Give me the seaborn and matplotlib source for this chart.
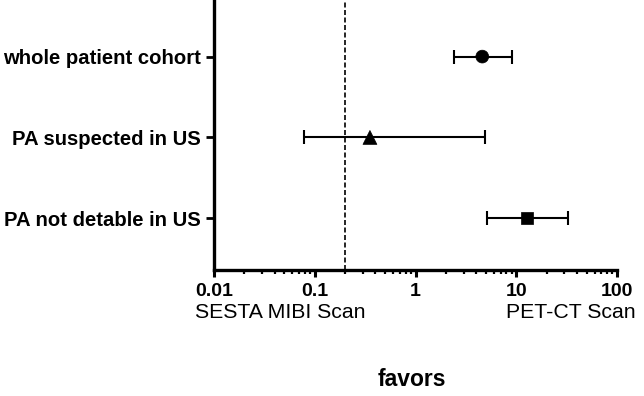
import numpy as np
import pandas as pd
import matplotlib
matplotlib.use("Agg")
import matplotlib.pyplot as plt
import seaborn as sns
from matplotlib.ticker import FixedLocator, LogLocator, NullFormatter

# ---- data ----
groups = ["whole patient cohort", "PA suspected in US", "PA not detable in US"]
odds_ratio = [4.6, 0.353, 12.9]
ci_low = [2.43, 0.079, 5.08]
ci_high = [9.06, 4.86, 32.7]
markers_used = ["o", "^", "s"]
marker_sizes = [85, 100, 75]
reference_value = 0.2
xtick_values = [0.01, 0.1, 1, 10, 100]
xtick_labels = ["0.01", "0.1", "1", "10", "100"]
left_label = "SESTA MIBI Scan"
right_label = "PET-CT Scan"
xlabel = "favors"

sns.set_style("ticks")
plt.rcParams["font.family"] = ["Liberation Sans", "DejaVu Sans"]
plt.rcParams["text.color"] = "black"
plt.rcParams["xtick.color"] = "black"
plt.rcParams["ytick.color"] = "black"
plt.rcParams["axes.edgecolor"] = "black"

df = pd.DataFrame({"group": groups, "or": odds_ratio, "lo": ci_low, "hi": ci_high,
                   "pos": np.arange(len(groups)), "size": marker_sizes})

fig = plt.figure(figsize=(6.44, 3.96), dpi=100)
ax = fig.add_axes([214 / 644, 1 - 270 / 396, (617 - 214) / 644, 270 / 396])

# error bars
ax.errorbar(df["or"], df["pos"],
            xerr=[df["or"] - df["lo"], df["hi"] - df["or"]],
            fmt="none", ecolor="black", elinewidth=1.5, capsize=5, capthick=1.5, zorder=2)

sns.scatterplot(data=df, x="or", y="pos", style="group", size="group",
                sizes=dict(zip(groups, marker_sizes)),
                markers=dict(zip(groups, markers_used)),
                color="black", edgecolor="black", linewidth=0.5, legend=False, ax=ax, zorder=3)

ax.axvline(reference_value, color="black", linestyle=(0, (3, 1.5)), linewidth=1.2, zorder=1)

ax.set_xscale("log")
ax.set_xlim(0.01, 100)
ax.set_ylim(2.64, -0.7)
ax.xaxis.set_major_locator(FixedLocator(xtick_values))
ax.set_xticklabels(xtick_labels, fontsize=14, fontweight="bold", color="black")
ax.xaxis.set_minor_locator(LogLocator(base=10, subs=np.arange(2, 10)))
ax.xaxis.set_minor_formatter(NullFormatter())
ax.set_yticks(df["pos"])
ax.set_yticklabels(groups, fontsize=14.6, fontweight="bold", color="black")

for side in ["top", "right"]:
    ax.spines[side].set_visible(False)
for side in ["left", "bottom"]:
    ax.spines[side].set_linewidth(2.4)
    ax.spines[side].set_color("black")
ax.tick_params(axis="x", which="major", length=5, width=2.2, pad=4, color="black")
ax.tick_params(axis="x", which="minor", length=3, width=1.6, color="black")
ax.tick_params(axis="y", which="major", length=6, width=2.0, pad=3.5, color="black")
ax.set_xlabel("")
ax.set_ylabel("")

fig.text(195 / 644, 1 - 313 / 396, left_label, fontsize=15.3, ha="left", va="center", color="black")
fig.text(636 / 644, 1 - 313 / 396, right_label, fontsize=15.3, ha="right", va="center", color="black")
fig.text(412 / 644, 1 - 379 / 396, xlabel,
         fontsize=16.5, fontweight="bold", ha="center", va="center", color="black")

fig.savefig("out.png", dpi=100)
